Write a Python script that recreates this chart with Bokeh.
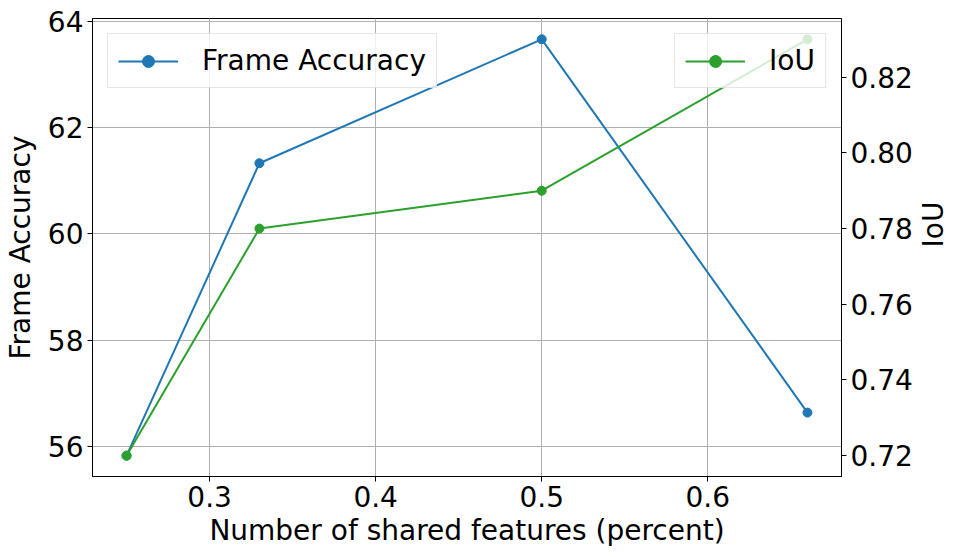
import math
from bokeh.plotting import figure
from bokeh.models import (Range1d, LinearAxis, FixedTicker, Legend, LegendItem,
                          PrintfTickFormatter)
from bokeh.embed import file_html
from bokeh.resources import INLINE

shared = [0.25, 0.33, 0.5, 0.66]
frame_acc = [55.83, 61.33, 63.66, 56.64]
iou = [0.72, 0.78, 0.79, 0.83]
x_ticks = [0.3, 0.4, 0.5, 0.6]
left_ticks = [56, 58, 60, 62, 64]
right_ticks = [0.72, 0.74, 0.76, 0.78, 0.80, 0.82]

BLUE = "#1f77b4"
GREEN = "#2ca02c"
FONT = "DejaVu Sans"
FS = "28px"

def pad(lo, hi, f=0.05):
    d = (hi - lo) * f
    return lo - d, hi + d

xlo, xhi = pad(min(shared), max(shared))
ylo, yhi = pad(min(frame_acc), max(frame_acc))
rlo, rhi = pad(min(iou), max(iou))

p = figure(output_backend="svg", toolbar_location=None,
           frame_width=749, frame_height=458,
           x_range=Range1d(xlo, xhi), y_range=Range1d(ylo, yhi),
           min_border_left=90, min_border_top=18, min_border_right=110, min_border_bottom=75)
p.extra_y_ranges = {"iou": Range1d(rlo, rhi)}
p.outline_line_color = "black"
p.outline_line_width = 1
p.background_fill_color = "white"
p.border_fill_color = "white"

right_axis = LinearAxis(y_range_name="iou")
p.add_layout(right_axis, "right")

for ax in [p.xaxis[0], p.yaxis[0], right_axis]:
    ax.major_label_text_font = FONT
    ax.major_label_text_font_size = FS
    ax.major_label_text_color = "black"
    ax.axis_label_text_font = FONT
    ax.axis_label_text_font_size = FS
    ax.axis_label_text_font_style = "normal"
    ax.axis_label_text_color = "black"
    ax.minor_tick_line_color = None
    ax.major_tick_out = 5
    ax.major_tick_in = 0
    ax.major_tick_line_color = "black"
    ax.axis_line_color = "black"
    ax.major_label_standoff = 4

p.xaxis[0].ticker = FixedTicker(ticks=x_ticks)
p.xaxis[0].axis_label = "Number of shared features (percent)"
p.xaxis[0].axis_label_standoff = 4
p.yaxis[0].ticker = FixedTicker(ticks=left_ticks)
p.yaxis[0].axis_label = "Frame Accuracy"
p.yaxis[0].axis_label_standoff = 8
right_axis.ticker = FixedTicker(ticks=right_ticks)
right_axis.formatter = PrintfTickFormatter(format="%.2f")
right_axis.axis_label = "IoU"
right_axis.axis_label_standoff = 18
right_axis.axis_label_orientation = math.pi / 2

p.xgrid.ticker = FixedTicker(ticks=x_ticks)
p.ygrid.ticker = FixedTicker(ticks=left_ticks)
for g in [p.xgrid[0], p.ygrid[0]]:
    g.grid_line_color = "#b0b0b0"
    g.grid_line_width = 1

l1 = p.line(shared, frame_acc, line_color=BLUE, line_width=2)
c1 = p.scatter(shared, frame_acc, size=9, color=BLUE)
l2 = p.line(shared, iou, line_color=GREEN, line_width=2, y_range_name="iou")
c2 = p.scatter(shared, iou, size=9, color=GREEN, y_range_name="iou")

def make_legend(label, renderers, loc):
    lg = Legend(items=[LegendItem(label=label, renderers=renderers)], location=loc)
    lg.margin = 15
    lg.padding = 10
    lg.glyph_width = 60
    lg.glyph_height = 30
    lg.label_height = 30
    lg.label_standoff = 24
    lg.label_text_font = FONT
    lg.label_text_font_size = FS
    lg.label_text_color = "black"
    lg.border_line_color = "#cccccc"
    lg.border_line_width = 1
    lg.background_fill_color = "white"
    lg.background_fill_alpha = 0.8
    lg.spacing = 0
    return lg

p.add_layout(make_legend("Frame Accuracy", [l1, c1], "top_left"))
p.add_layout(make_legend("IoU", [l2, c2], "top_right"))

open("out.html", "w").write(file_html(p, INLINE))
